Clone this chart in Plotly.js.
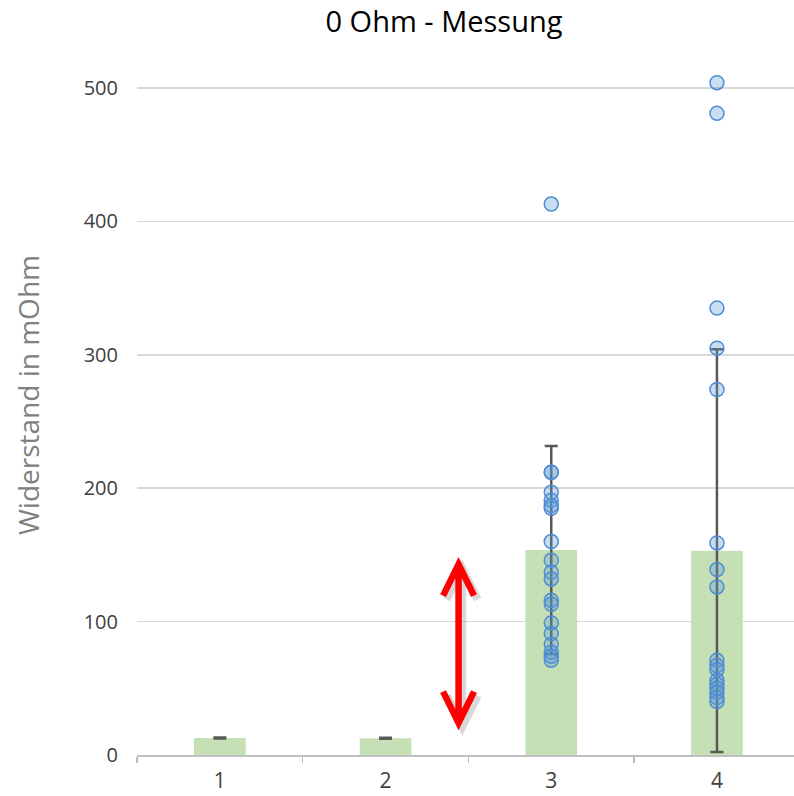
<!DOCTYPE html>
<html>
<head>
<meta charset="utf-8">
<script src="https://cdn.plot.ly/plotly-3.0.1.min.js"></script>
<style>html,body{margin:0;padding:0;background:#fff;}#chart{width:794px;height:796px;}</style>
</head>
<body>
<div id="chart"></div>
<script>
// Data
const categories = ['1', '2', '3', '4'];
const mittelwerte = [12.7, 12.6, 153.7, 153.2];
const fehler = [0.4, 0.4, 78, 151];
const messwerte3 = [413, 212, 212, 197, 191, 187, 185, 160, 146, 137, 132, 116, 113, 99, 91, 83, 77, 74, 71];
const messwerte4 = [504, 481, 335, 305, 274, 159, 139, 126, 71, 67, 64, 56, 53, 50, 47, 43, 40];
// double arrow annotation (category index / value coordinates)
const pfeilX = 1.4406;
const pfeilOben = 143;
const pfeilUnten = 24;

const barTrace = {
  type: 'bar',
  x: categories,
  y: mittelwerte,
  width: 0.312,
  marker: {color: 'rgb(197,224,180)'},
  error_y: {type: 'data', array: fehler, visible: true, color: '#595959', thickness: 2.5, width: 6.5},
  hoverinfo: 'skip'
};
const punkte3 = {
  type: 'scatter', mode: 'markers',
  x: messwerte3.map(() => categories[2]), y: messwerte3,
  marker: {size: 14, color: 'rgba(91,155,213,0.33)', line: {color: 'rgb(79,140,215)', width: 1.5}}
};
const punkte4 = {
  type: 'scatter', mode: 'markers',
  x: messwerte4.map(() => categories[3]), y: messwerte4,
  marker: {size: 14, color: 'rgba(91,155,213,0.33)', line: {color: 'rgb(79,140,215)', width: 1.5}}
};

const dx = 0.0935, dyKopf = 23.5;
function pfeilPfad(ox, oy) {
  const x = pfeilX + ox;
  const t = pfeilOben + oy, b = pfeilUnten + oy;
  return `M ${x} ${t} L ${x} ${b} ` +
         `M ${x - dx} ${t - dyKopf} L ${x} ${t} L ${x + dx} ${t - dyKopf} ` +
         `M ${x - dx} ${b + dyKopf} L ${x} ${b} L ${x + dx} ${b + dyKopf}`;
}

const layout = {
  width: 794, height: 796,
  margin: {l: 137, r: 0, t: 60, b: 41},
  paper_bgcolor: '#fff', plot_bgcolor: '#fff',
  showlegend: false,
  font: {family: '"Open Sans", "Noto Sans", sans-serif', color: '#404040'},
  title: {text: '0 Ohm - Messung', x: 444 / 794, xref: 'container', xanchor: 'center', y: 0.972, yref: 'container', yanchor: 'middle',
          font: {size: 29, color: '#000', family: '"Open Sans", "Noto Sans", sans-serif'}},
  bargap: 0.6,
  xaxis: {
    type: 'category', range: [-0.5, 3.465], tickson: 'boundaries',
    ticks: 'outside', ticklen: 6, tickcolor: '#bfbfbf', tickwidth: 1.5,
    showline: true, linecolor: '#bfbfbf', linewidth: 1.5,
    showgrid: false, zeroline: false,
    ticklabelstandoff: 6,
    tickfont: {size: 21, color: '#404040'}, fixedrange: true
  },
  yaxis: {
    range: [0, 521], tickvals: [0, 100, 200, 300, 400, 500],
    showgrid: true, gridcolor: '#d9d9d9', gridwidth: 1.5,
    zeroline: false, showline: false, ticks: '',
    ticklabelstandoff: 18,
    tickfont: {size: 20, color: '#404040'},
    fixedrange: true
  },
  annotations: [
    {text: 'Widerstand in mOhm', xref: 'paper', yref: 'paper', x: (28 - 137) / 657, y: (755 - 395) / 695,
     xanchor: 'center', yanchor: 'middle', textangle: -90, showarrow: false,
     font: {size: 28, color: '#808080'}}
  ],
  shapes: [
    {type: 'path', path: pfeilPfad(0.022, -3), line: {color: 'rgba(0,0,0,0.15)', width: 8}, layer: 'above'},
    {type: 'path', path: pfeilPfad(0, 0), line: {color: '#ff0000', width: 6.5}, layer: 'above'}
  ]
};

Plotly.newPlot('chart', [barTrace, punkte3, punkte4], layout, {displayModeBar: false, staticPlot: true});
</script>
</body>
</html>
